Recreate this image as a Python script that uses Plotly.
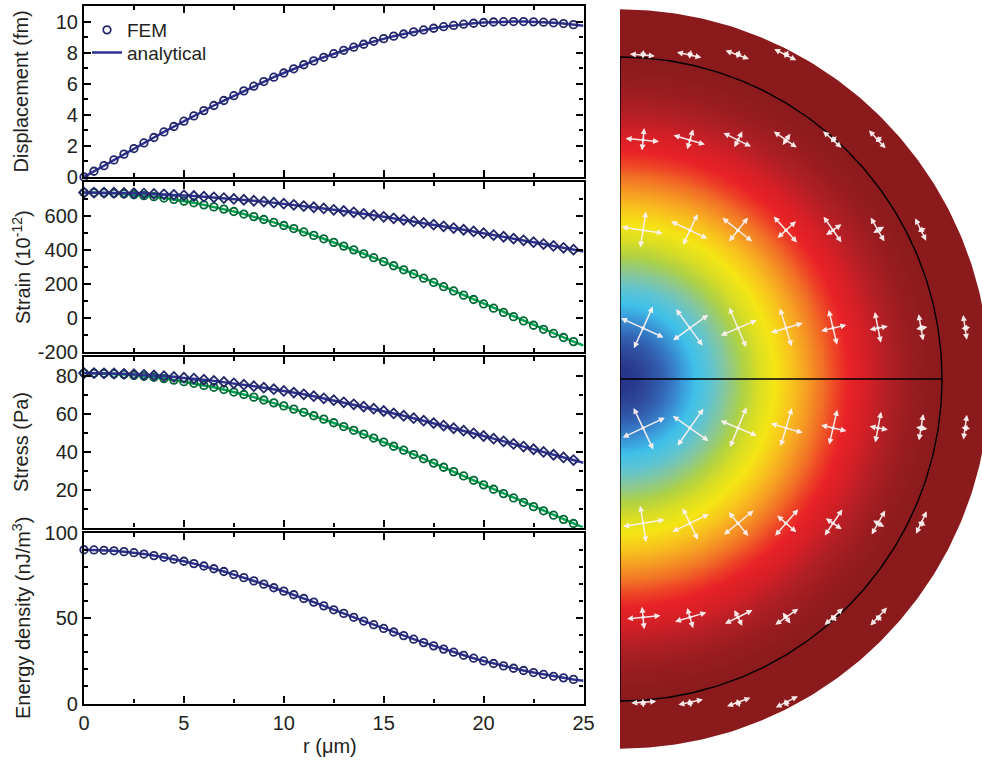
import numpy as np
import plotly.graph_objects as go

# ---------------------------------------------------------------- data
# radial position of the samples (µm); FEM nodes stop at 24.5 µm
r_um = [0.0, 0.5, 1.0, 1.5, 2.0, 2.5, 3.0, 3.5, 4.0, 4.5,
        5.0, 5.5, 6.0, 6.5, 7.0, 7.5, 8.0, 8.5, 9.0, 9.5,
        10.0, 10.5, 11.0, 11.5, 12.0, 12.5, 13.0, 13.5, 14.0, 14.5,
        15.0, 15.5, 16.0, 16.5, 17.0, 17.5, 18.0, 18.5, 19.0, 19.5,
        20.0, 20.5, 21.0, 21.5, 22.0, 22.5, 23.0, 23.5, 24.0, 24.5,
        25.0]

displacement_fm = [0.00, 0.37, 0.73, 1.10, 1.47, 1.83, 2.19, 2.54, 2.90, 3.25,
                   3.59, 3.93, 4.27, 4.60, 4.92, 5.23, 5.54, 5.84, 6.14, 6.42,
                   6.69, 6.96, 7.22, 7.47, 7.70, 7.93, 8.15, 8.35, 8.54, 8.73,
                   8.90, 9.06, 9.20, 9.34, 9.46, 9.57, 9.67, 9.75, 9.83, 9.89,
                   9.94, 9.97, 9.99, 10.00, 10.00, 9.98, 9.96, 9.92, 9.87, 9.80,
                   9.73]

# strain in units of 1e-12 (hoop = blue diamonds, radial = green circles)
strain_hoop = [735, 735, 735, 734, 733, 731, 729, 727, 725, 722,
               719, 715, 711, 707, 703, 698, 693, 687, 682, 676,
               670, 663, 656, 649, 642, 634, 627, 619, 610, 602,
               593, 584, 575, 566, 557, 547, 537, 527, 517, 507,
               497, 486, 476, 465, 455, 444, 433, 422, 411, 400,
               389]
strain_radial = [735, 735, 733, 731, 727, 723, 717, 711, 703, 695,
                 685, 675, 663, 651, 638, 624, 609, 594, 577, 560,
                 542, 524, 504, 484, 464, 443, 421, 399, 376, 353,
                 330, 306, 282, 258, 233, 208, 183, 158, 133, 108,
                 82, 57, 32, 7, -18, -43, -67, -91, -115, -139,
                 -162]

# stress (Pa)
stress_hoop = [81.5, 81.5, 81.4, 81.3, 81.1, 80.9, 80.6, 80.3, 79.9, 79.5,
               79.1, 78.6, 78.0, 77.4, 76.8, 76.1, 75.4, 74.6, 73.8, 73.0,
               72.1, 71.2, 70.3, 69.3, 68.2, 67.2, 66.1, 65.0, 63.8, 62.7,
               61.5, 60.2, 59.0, 57.7, 56.4, 55.1, 53.8, 52.4, 51.1, 49.7,
               48.3, 46.9, 45.5, 44.1, 42.7, 41.3, 39.9, 38.4, 37.0, 35.6,
               34.2]
stress_radial = [81.5, 81.4, 81.3, 81.1, 80.8, 80.3, 79.8, 79.3, 78.6, 77.8,
                 77.0, 76.1, 75.0, 74.0, 72.8, 71.5, 70.2, 68.8, 67.3, 65.8,
                 64.2, 62.5, 60.8, 59.0, 57.2, 55.3, 53.3, 51.3, 49.3, 47.2,
                 45.1, 42.9, 40.8, 38.5, 36.3, 34.0, 31.8, 29.5, 27.2, 24.9,
                 22.5, 20.2, 17.9, 15.6, 13.3, 11.0, 8.8, 6.5, 4.3, 2.1,
                 -0.1]

# strain energy density (nJ/m^3)
energy_density = [89.9, 89.8, 89.6, 89.3, 88.8, 88.2, 87.4, 86.5, 85.5, 84.4,
                  83.2, 81.8, 80.4, 78.8, 77.2, 75.4, 73.6, 71.7, 69.8, 67.7,
                  65.7, 63.6, 61.4, 59.3, 57.1, 54.8, 52.7, 50.4, 48.2, 46.1,
                  43.9, 41.8, 39.7, 37.6, 35.6, 33.7, 31.8, 30.0, 28.2, 26.5,
                  24.9, 23.4, 22.0, 20.6, 19.3, 18.1, 17.0, 15.9, 15.0, 14.1,
                  13.3]

# geometry of the cross-section (µm)
sphere_radius = 25.0
shell_radius = 28.7

# glyph grid of the principal-stress crosses (µm)
glyph_rows_y = [25.15, 18.55, 11.55, 3.95, -3.8, -11.2, -18.5, -25.1]
glyph_row_counts = [4, 6, 7, 8, 8, 7, 6, 4]
glyph_cols_x = [1.79, 5.43, 9.16, 12.89, 16.54, 20.03, 23.37, 26.79]

# ---------------------------------------------------------------- style
W, H = 982, 760
FONT = "Liberation Sans, Arial, sans-serif"
INK = "#231f20"
BLUE, BLUE_M = "#2e3192", "#22266a"
GREEN, GREEN_M = "#00a651", "#006633"
N_FEM = 50


def fx(p):
    return p / W


def fy(p):
    return 1 - p / H


r = np.array(r_um)
fig = go.Figure()


def add_curve(ax, y, color, mcolor, symbol, msize, legend=False):
    xa, ya = ("x", "y") if ax == 1 else (f"x{ax}", f"y{ax}")
    fig.add_trace(go.Scatter(
        x=r_um, y=y, mode="lines", xaxis=xa, yaxis=ya,
        line=dict(color=color, width=2.5),
        name="analytical", showlegend=legend, legend="legend2", hoverinfo="skip"))
    fig.add_trace(go.Scatter(
        x=r_um[:N_FEM], y=y[:N_FEM], mode="markers", xaxis=xa, yaxis=ya,
        marker=dict(symbol=symbol, size=msize, color=mcolor,
                    line=dict(color=mcolor, width=1.8)),
        name="FEM", showlegend=legend, legend="legend", cliponaxis=False,
        hoverinfo="skip"))


add_curve(1, displacement_fm, BLUE, BLUE_M, "circle-open", 7.5, legend=True)
add_curve(2, strain_radial, GREEN, GREEN_M, "circle-open", 7.5)
add_curve(2, strain_hoop, BLUE, BLUE_M, "diamond-open", 7.5)
add_curve(3, stress_radial, GREEN, GREEN_M, "circle-open", 7.5)
add_curve(3, stress_hoop, BLUE, BLUE_M, "diamond-open", 7.5)
add_curve(4, energy_density, BLUE, BLUE_M, "circle-open", 7.5)

# ---------------------------------------------------------------- axes
panels = [
    # (top px, bottom px, range, tickvals, ticktext, minor dtick)
    (6, 177, [0, 11], [0, 2, 4, 6, 8, 10], ["0", "2", "4", "6", "8", "10"], 1),
    (181.5, 352, [-200, 800], [-200, 0, 200, 400, 600, 800],
     ["-200", "0", "200", "400", "600", ""], 100),
    (357, 527.5, [0, 90], [0, 20, 40, 60, 80], ["", "20", "40", "60", "80"], 10),
    (532.5, 703.5, [0, 100], [0, 50, 100], ["0", "50", "100"], 10),
]
tickfont = dict(family=FONT, size=20, color=INK)
layout_axes = {}
for i, (top, bot, rng, tv, tt, mdt) in enumerate(panels, start=1):
    sx = "xaxis" if i == 1 else f"xaxis{i}"
    sy = "yaxis" if i == 1 else f"yaxis{i}"
    layout_axes[sx] = dict(
        domain=[fx(84), fx(583.5)], range=[0, 25], anchor="y" if i == 1 else f"y{i}",
        tickmode="array", tickvals=[0, 5, 10, 15, 20, 25],
        ticktext=["0", "5", "10", "15", "20", "25"],
        showticklabels=(i == 4), tickfont=tickfont,
        ticks="inside", ticklen=7, tickwidth=2, tickcolor="black",
        minor=dict(tickmode="linear", tick0=0, dtick=2.5, ticks="inside",
                   ticklen=4, tickwidth=1.6, tickcolor="black"),
        showline=True, linewidth=2.2, linecolor="black", mirror="ticks",
        showgrid=False, zeroline=False, fixedrange=True, automargin=False)
    layout_axes[sy] = dict(
        domain=[fy(bot), fy(top)], range=rng, anchor="x" if i == 1 else f"x{i}",
        tickmode="array", tickvals=tv, ticktext=tt, tickfont=tickfont,
        ticks="inside", ticklen=7, tickwidth=2, tickcolor="black",
        minor=dict(tickmode="linear", tick0=0, dtick=mdt, ticks="inside",
                   ticklen=4, tickwidth=1.6, tickcolor="black"),
        showline=True, linewidth=2.2, linecolor="black", mirror="ticks",
        showgrid=False, zeroline=False, fixedrange=True, automargin=False)

# ---------------------------------------------------------------- cross-section
SCALE = 12.88  # px per µm in the cross-section
cx_px, cy_px = 620, 379
x5_range = [0, (W - cx_px) / SCALE]
y5_range = [-(H - cy_px) / SCALE, cy_px / SCALE]
layout_axes["xaxis5"] = dict(domain=[fx(cx_px), 1], range=x5_range, anchor="y5",
                             visible=False, fixedrange=True)
layout_axes["yaxis5"] = dict(domain=[0, 1], range=y5_range, anchor="x5",
                             visible=False, fixedrange=True)

# colour field: energy density at each radius (shell keeps the surface value)
gx = np.arange(0, 29.01, 0.25)
gy = np.arange(-29.0, 29.01, 0.25)
GX, GY = np.meshgrid(gx, gy)
field = np.interp(np.hypot(GX, GY), r, energy_density)
colorscale = [
    [0.000, "#8b1a1c"], [0.010, "#8d1b1e"], [0.051, "#961c20"], [0.121, "#b11f25"],
    [0.181, "#d21f26"], [0.256, "#e92227"], [0.307, "#ee4526"], [0.360, "#f27026"],
    [0.433, "#f6a023"], [0.491, "#f8c11e"], [0.572, "#f5e614"], [0.645, "#d8dd25"],
    [0.710, "#aed146"], [0.779, "#86c79d"], [0.829, "#62c4cf"], [0.884, "#3ec0ea"],
    [0.920, "#3a97d8"], [0.956, "#3468b8"], [0.988, "#2d4597"], [1.000, "#27338a"],
]
fig.add_trace(go.Heatmap(
    x=gx, y=gy, z=np.round(field, 2), xaxis="x5", yaxis="y5",
    colorscale=colorscale, zmin=min(energy_density), zmax=max(energy_density),
    zsmooth="best", showscale=False, hoverinfo="skip"))

# white mask outside the outer shell
t = np.linspace(np.pi / 2, -np.pi / 2, 240)
mx = np.concatenate([shell_radius * np.cos(t), [0, 32, 32, 0]])
my = np.concatenate([shell_radius * np.sin(t), [-32, -32, 32, 32]])
fig.add_trace(go.Scatter(x=mx, y=my, xaxis="x5", yaxis="y5", mode="lines",
                         fill="toself", fillcolor="white", line=dict(width=0),
                         showlegend=False, hoverinfo="skip"))

# sphere boundary, symmetry axis and equator
bx = np.concatenate([sphere_radius * np.cos(t), [0, 0]])
by = np.concatenate([sphere_radius * np.sin(t), [sphere_radius, sphere_radius]])
fig.add_trace(go.Scatter(x=bx, y=by, xaxis="x5", yaxis="y5", mode="lines",
                         line=dict(color="black", width=1.4), cliponaxis=False,
                         showlegend=False, hoverinfo="skip"))
fig.add_trace(go.Scatter(x=[0, sphere_radius], y=[0, 0], xaxis="x5", yaxis="y5",
                         mode="lines", line=dict(color="black", width=1.4),
                         showlegend=False, hoverinfo="skip"))

# principal stress crosses: radial and tangential arms
annotations = []
sx_list, sy_list = [], []
ARM0, ARM_K = 0.40, 0.0185  # µm, µm per Pa
ARROW_COL = "rgba(252,242,242,0.95)"
for gy_, n in zip(glyph_rows_y, glyph_row_counts):
    for gx_ in glyph_cols_x[:n]:
        rr = float(np.hypot(gx_, gy_))
        ur = np.array([gx_, gy_]) / rr
        ut = np.array([-gy_, gx_]) / rr
        s_r = float(np.interp(rr, r, stress_radial))
        s_t = float(np.interp(rr, r, stress_hoop))
        for u, s in ((ur, s_r), (ut, s_t)):
            half = ARM0 + ARM_K * abs(s)
            annotations.append(dict(
                x=gx_ + half * u[0], y=gy_ + half * u[1],
                ax=gx_ - half * u[0], ay=gy_ - half * u[1],
                xref="x5", yref="y5", axref="x5", ayref="y5",
                text="", showarrow=True, arrowside="end+start",
                arrowhead=2, startarrowhead=2, arrowsize=0.8, startarrowsize=0.8,
                arrowwidth=1.5, arrowcolor=ARROW_COL, standoff=0, startstandoff=0))
        sx_list.append(gx_)
        sy_list.append(gy_)
fig.add_trace(go.Scatter(x=sx_list, y=sy_list, xaxis="x5", yaxis="y5", mode="markers",
                         marker=dict(size=3.5, color=ARROW_COL), showlegend=False,
                         hoverinfo="skip"))

# ---------------------------------------------------------------- titles
title_font = dict(family=FONT, size=20, color=INK)
for text, ypx in (("Displacement (fm)", 91.5), ("Strain (10<sup>-12</sup>)", 267),
                  ("Stress (Pa)", 442), ("Energy density (nJ/m<sup>3</sup>)", 618)):
    annotations.append(dict(text=text, x=fx(21), y=fy(ypx), xref="paper", yref="paper",
                            textangle=-90, showarrow=False, font=title_font,
                            xanchor="center", yanchor="middle"))
annotations.append(dict(text="r (μm)", x=fx(330), y=fy(746), xref="paper", yref="paper",
                        showarrow=False, font=title_font, xanchor="center",
                        yanchor="middle"))

legend_common = dict(xanchor="left", yanchor="top", bgcolor="rgba(0,0,0,0)",
                     borderwidth=0, font=dict(family=FONT, size=19, color=INK))
fig.update_layout(
    width=W, height=H, autosize=False,
    margin=dict(l=0, r=0, t=0, b=0, pad=0, autoexpand=False),
    paper_bgcolor="white", plot_bgcolor="white",
    font=dict(family=FONT, color=INK),
    showlegend=True,
    legend=dict(x=fx(87), y=fy(11), **legend_common),
    legend2=dict(x=fx(87), y=fy(33.7), **legend_common),
    annotations=annotations,
    **layout_axes,
)

fig.write_html("out.html")
